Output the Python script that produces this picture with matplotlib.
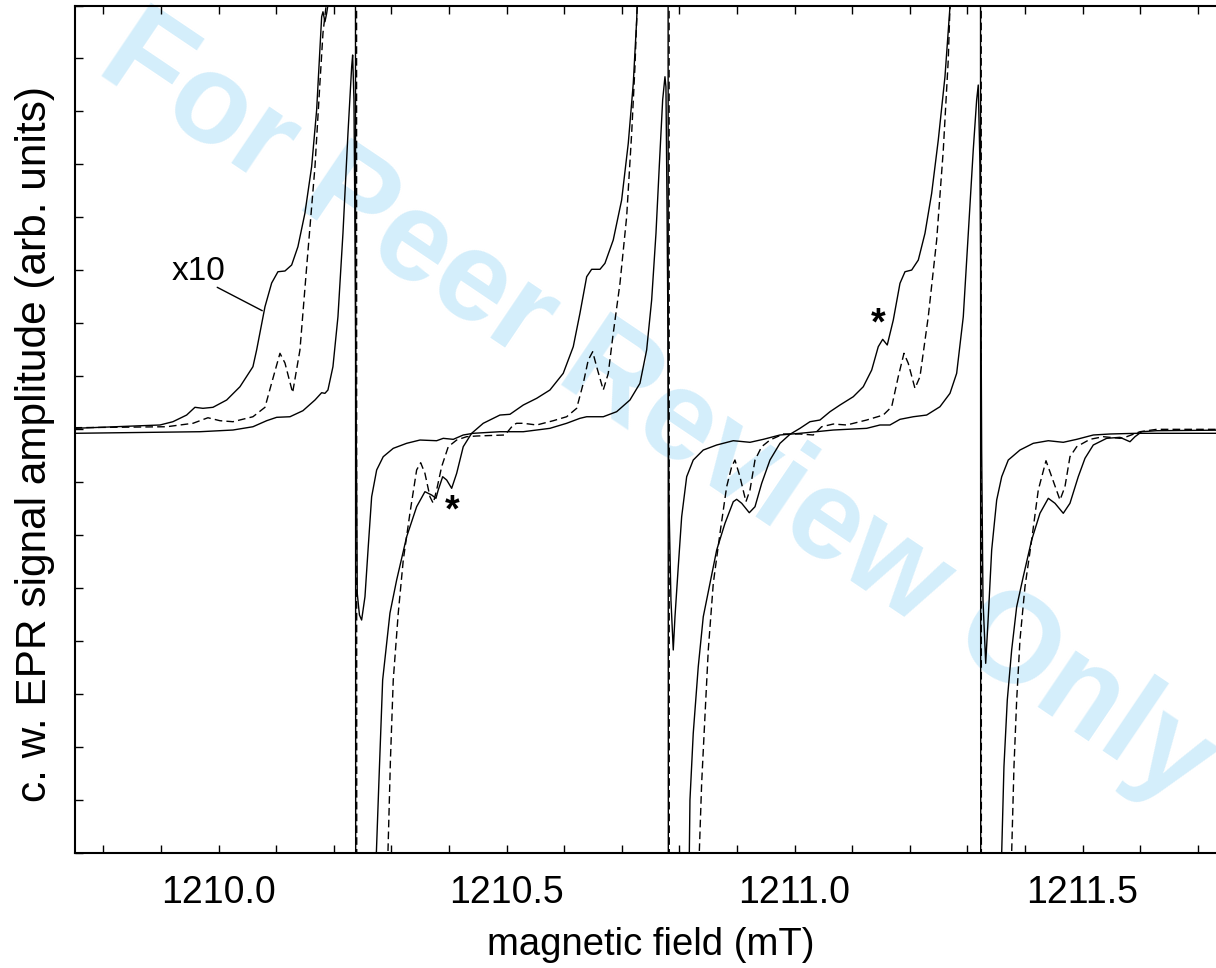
import matplotlib
matplotlib.use('Agg')
import matplotlib.pyplot as plt
from matplotlib.ticker import MultipleLocator, NullFormatter

plt.rcParams['font.family'] = ['Liberation Sans', 'DejaVu Sans']

# measured c.w. EPR spectrum, x1 (solid)
field_x1 = [1209.75, 1209.9677, 1210.025, 1210.0597, 1210.0835, 1210.1009, 1210.124, 1210.1465,
            1210.1674, 1210.179, 1210.1847, 1210.1899, 1210.1986, 1210.2073, 1210.216, 1210.2247,
            1210.2311, 1210.2328, 1210.2351, 1210.2373, 1210.2408, 1210.2446, 1210.2484, 1210.2542,
            1210.2599, 1210.2658, 1210.2745, 1210.2859, 1210.3033, 1210.3266, 1210.3497, 1210.3786,
            1210.3901, 1210.4075, 1210.4248, 1210.4422, 1210.4885, 1210.529, 1210.5753, 1210.6043,
            1210.6274, 1210.6391, 1210.6679, 1210.6911, 1210.7142, 1210.7316, 1210.7432, 1210.7519,
            1210.7594, 1210.7651, 1210.771, 1210.775, 1210.7767, 1210.7785, 1210.7802, 1210.7819,
            1210.7854, 1210.7894, 1210.7924, 1210.7981, 1210.804, 1210.8127, 1210.8241, 1210.8415,
            1210.8648, 1210.8936, 1210.9226, 1210.9457, 1210.9747, 1211.0094, 1211.0672, 1211.1252,
            1211.1483, 1211.1656, 1211.183, 1211.2061, 1211.2293, 1211.2524, 1211.2698, 1211.2814,
            1211.2929, 1211.3016, 1211.3102, 1211.3161, 1211.3189, 1211.3219, 1211.3236, 1211.3248,
            1211.3271, 1211.3318, 1211.3363, 1211.3422, 1211.3509, 1211.3596, 1211.371, 1211.3913,
            1211.4144, 1211.4405, 1211.4665, 1211.4898, 1211.5186, 1211.5476, 1211.5939, 1211.76]
amp_x1 = [-0.081, -0.051, -0.019, 0.043, 0.157, 0.221, 0.232, 0.346,
          0.548, 0.686, 0.674, 0.737, 1.177, 2.121, 3.702, 5.591,
          6.844, 7.065, 6.215, 3.066, -3.103, -3.513, -3.608, -3.168,
          -2.223, -1.279, -0.774, -0.523, -0.365, -0.270, -0.208, -0.221,
          -0.176, -0.195, -0.113, -0.081, -0.051, -0.051, 0.013, 0.108,
          0.202, 0.232, 0.232, 0.327, 0.548, 0.863, 1.492, 2.437,
          3.697, 4.955, 6.215, 6.655, 6.466, 4.326, 1.808, -1.341,
          -3.230, -4.174, -3.546, -2.601, -1.657, -0.901, -0.586, -0.397,
          -0.302, -0.221, -0.251, -0.195, -0.113, -0.081, -0.019, 0.013,
          0.076, 0.076, 0.183, 0.232, 0.264, 0.421, 0.674, 1.052,
          2.121, 3.697, 5.270, 6.215, 6.498, 4.955, 2.437, -0.397,
          -3.230, -4.426, -3.546, -2.286, -1.341, -0.901, -0.586, -0.397,
          -0.270, -0.221, -0.251, -0.195, -0.113, -0.094, -0.081, -0.081]

# measured spectrum, magnified x10 (solid)
field_x10 = [1209.75, 1209.8983, 1209.9208, 1209.9446, 1209.959, 1209.9729, 1209.9903, 1210.0141,
             1210.0372, 1210.0597, 1210.0661, 1210.0806, 1210.0922, 1210.1031, 1210.1153, 1210.1269,
             1210.1378, 1210.15, 1210.1616, 1210.1703, 1210.176, 1210.179, 1210.1813, 1210.1847,
             1210.1877, 1210.1899, 1210.2108, 1210.2373, 1210.2385, 1210.2628, 1210.274, 1210.2785,
             1210.2849, 1210.2976, 1210.3092, 1210.3266, 1210.3439, 1210.3583, 1210.37, 1210.3774,
             1210.3814, 1210.3891, 1210.396, 1210.4047, 1210.4134, 1210.4248, 1210.4394, 1210.4595,
             1210.4885, 1210.5059, 1210.529, 1210.5523, 1210.5753, 1210.5984, 1210.6158, 1210.6274,
             1210.6391, 1210.6477, 1210.6622, 1210.6708, 1210.6852, 1210.6998, 1210.7113, 1210.72,
             1210.7259, 1210.7269, 1210.749, 1210.78, 1210.7813, 1210.8045, 1210.8172, 1210.8184,
             1210.8241, 1210.8328, 1210.8415, 1210.8531, 1210.8648, 1210.8792, 1210.8936, 1210.8995,
             1210.9082, 1210.9214, 1210.9313, 1210.9429, 1210.9573, 1210.9747, 1210.992, 1211.0094,
             1211.0267, 1211.0441, 1211.0615, 1211.0788, 1211.1019, 1211.1193, 1211.1339, 1211.1453,
             1211.153, 1211.1609, 1211.1714, 1211.183, 1211.1917, 1211.2033, 1211.2148, 1211.2264,
             1211.238, 1211.2495, 1211.2611, 1211.2698, 1211.2906, 1211.3224, 1211.3236, 1211.3479,
             1211.3596, 1211.3635, 1211.3693, 1211.3769, 1211.3856, 1211.397, 1211.4116, 1211.426,
             1211.4405, 1211.4521, 1211.4665, 1211.4781, 1211.4925, 1211.5042, 1211.5186, 1211.5418,
             1211.5649, 1211.5823, 1211.591, 1211.6026, 1211.6286, 1211.76]
amp_x10 = [0.013, 0.076, 0.138, 0.264, 0.410, 0.391, 0.410, 0.548,
           0.799, 1.177, 1.492, 2.310, 2.758, 2.971, 2.985, 3.098,
           3.444, 4.080, 4.955, 6.026, 7.159, 7.788, 7.882, 7.694,
           7.852, 8.009, 20.0, 30.0, -30.0, -20.0, -8.0, -6.630,
           -4.741, -3.476, -2.852, -2.034, -1.468, -1.184, -1.247, -1.309,
           -1.152, -0.901, -0.963, -1.120, -0.837, -0.334, -0.081, 0.108,
           0.264, 0.278, 0.453, 0.580, 0.737, 1.052, 1.555, 2.185,
           2.877, 3.017, 3.017, 3.130, 3.570, 4.326, 5.397, 6.530,
           7.726, 8.009, 20.0, 30.0, -30.0, -20.0, -8.0, -7.008,
           -5.748, -4.490, -3.546, -2.915, -2.286, -1.781, -1.373, -1.328,
           -1.403, -1.581, -1.468, -1.026, -0.586, -0.270, -0.100, 0.013,
           0.138, 0.170, 0.327, 0.453, 0.610, 0.799, 1.114, 1.555,
           1.694, 1.587, 2.059, 2.752, 2.971, 3.003, 3.192, 3.697,
           4.452, 5.459, 6.655, 7.977, 20.0, 30.0, -30.0, -20.0,
           -8.0, -6.379, -5.119, -4.174, -3.357, -2.790, -2.097, -1.592,
           -1.309, -1.403, -1.592, -1.403, -0.901, -0.553, -0.302, -0.176,
           -0.157, -0.240, -0.145, -0.051, -0.032, -0.019]

# simulated spectrum, x10 (dashed)
field_sim = [1209.75, 1209.9099, 1209.9556, 1209.9816, 1210.0024, 1210.025, 1210.0597, 1210.0806,
             1210.0922, 1210.1066, 1210.1153, 1210.1286, 1210.1413, 1210.153, 1210.1674, 1210.176,
             1210.1813, 1210.1865, 1210.2108, 1210.2392, 1210.2403, 1210.2715, 1210.2941, 1210.2984,
             1210.3033, 1210.312, 1210.3207, 1210.3323, 1210.3439, 1210.3509, 1210.3583, 1210.367,
             1210.3727, 1210.3786, 1210.3873, 1210.3988, 1210.4134, 1210.4307, 1210.4481, 1210.4972,
             1210.5116, 1210.5175, 1210.529, 1210.5523, 1210.5811, 1210.6043, 1210.6217, 1210.6332,
             1210.6418, 1210.6495, 1210.6564, 1210.6679, 1210.6766, 1210.6852, 1210.6969, 1210.7085,
             1210.7172, 1210.7229, 1210.7269, 1210.749, 1210.7818, 1210.7828, 1210.8184, 1210.8346,
             1210.8387, 1210.8444, 1210.8502, 1210.8589, 1210.8705, 1210.8821, 1210.8908, 1210.8965,
             1210.9052, 1210.9156, 1210.9226, 1210.9313, 1210.9429, 1210.9573, 1210.9804, 1211.0094,
             1211.0325, 1211.047, 1211.0672, 1211.0905, 1211.1252, 1211.154, 1211.1686, 1211.18,
             1211.1899, 1211.1974, 1211.209, 1211.2177, 1211.2321, 1211.2467, 1211.2582, 1211.2668,
             1211.2698, 1211.2906, 1211.3236, 1211.3247, 1211.3618, 1211.3769, 1211.3809, 1211.3856,
             1211.3913, 1211.4, 1211.4116, 1211.4231, 1211.4365, 1211.4464, 1211.4608, 1211.4694,
             1211.4781, 1211.4898, 1211.5128, 1211.5359, 1211.5649, 1211.5766, 1211.5997, 1211.6286,
             1211.76]
amp_sim = [0.025, 0.043, 0.108, 0.213, 0.157, 0.138, 0.232, 0.410,
           0.869, 1.430, 1.247, 0.686, 1.492, 3.066, 4.955, 6.536,
           7.480, 7.977, 20.0, 30.0, -30.0, -20.0, -8.0, -6.252,
           -4.741, -3.476, -2.474, -1.587, -0.774, -0.637, -0.837, -1.279,
           -1.403, -1.152, -0.712, -0.334, -0.208, -0.145, -0.132, -0.113,
           0.076, 0.108, 0.108, 0.076, 0.157, 0.232, 0.391, 0.863,
           1.303, 1.460, 1.177, 0.737, 1.052, 1.808, 2.752, 4.010,
           5.586, 6.844, 8.009, 20.0, 30.0, -30.0, -20.0, -8.0,
           -6.692, -5.434, -4.174, -2.915, -1.970, -1.090, -0.712, -0.586,
           -0.901, -1.373, -1.152, -0.586, -0.334, -0.208, -0.094, -0.094,
           -0.113, 0.043, 0.094, 0.076, 0.170, 0.264, 0.421, 0.988,
           1.430, 1.241, 0.769, 0.988, 2.121, 3.570, 5.270, 6.970,
           7.977, 20.0, 30.0, -30.0, -20.0, -8.0, -6.379, -5.119,
           -3.986, -2.979, -2.097, -1.152, -0.599, -0.901, -1.341, -1.090,
           -0.523, -0.334, -0.195, -0.145, -0.176, -0.145, -0.051, -0.006,
           -0.006]

# annotations
star_field = [1210.4047, 1211.1443]
star_amp = [-1.55, 1.98]
label_pos = (1209.966, 2.971)
leader_start = (1209.9977, 2.677)
leader_end = (1210.0759, 2.235)

fig = plt.figure(figsize=(12.16, 9.68), dpi=100)
fig.text(0.525, 0.548, 'For Peer Review Only', rotation=-34, rotation_mode='anchor',
         ha='center', va='baseline', fontsize=92, fontweight='bold', color='#d4eefb', zorder=-1)

ax = fig.add_axes([0.0613, 0.1193, 0.9474, 0.875])
ax.patch.set_alpha(0)

ax.plot(field_x1, amp_x1, color='black', lw=1.0)
ax.plot(field_x10, amp_x10, color='black', lw=1.0)
ax.plot(field_sim, amp_sim, color='black', lw=1.0, linestyle=(0, (5.5, 3)))

ax.text(label_pos[0], label_pos[1], 'x10', ha='center', va='center', fontsize=24)
ax.annotate('', xy=leader_end, xytext=leader_start,
            arrowprops=dict(arrowstyle='-', color='black', lw=1.0, shrinkA=0, shrinkB=0))
for xs, ys in zip(star_field, star_amp):
    ax.text(xs, ys, '*', ha='center', va='center', fontsize=27, fontweight='bold')

ax.set_xlim(1209.75, 1211.75)
ax.set_ylim(-8, 8)
ax.xaxis.set_major_locator(MultipleLocator(0.5))
ax.xaxis.set_minor_locator(MultipleLocator(0.1))
ax.yaxis.set_major_locator(MultipleLocator(1))
ax.yaxis.set_major_formatter(NullFormatter())
ax.tick_params(axis='x', which='both', direction='in', top=True, length=6, width=1.0,
               labelsize=27, pad=16)
ax.tick_params(axis='y', direction='in', length=6, width=1.0, left=True, right=False)
for sp in ax.spines.values():
    sp.set_linewidth(1.5)

ax.set_xlabel('magnetic field (mT)', fontsize=27.5, labelpad=12)
ax.set_ylabel('c. w. EPR signal amplitude (arb. units)', fontsize=30.5)
ax.yaxis.set_label_coords(-0.017, 0.482)

fig.savefig('out.png', dpi=100)
